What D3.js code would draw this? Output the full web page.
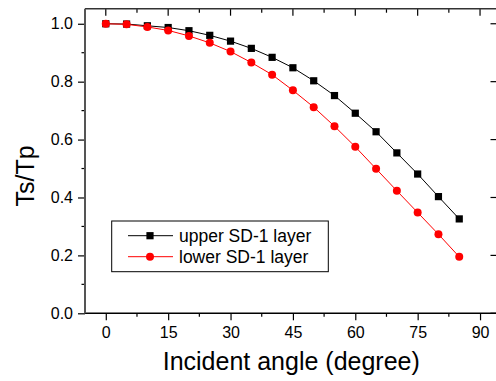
<!DOCTYPE html>
<html>
<head>
<meta charset="utf-8">
<script src="https://cdn.jsdelivr.net/npm/d3@7"></script>
<style>
  body { margin: 0; background: #fff; }
  svg text { font-family: Arial, "Liberation Sans", sans-serif; fill: #000; }
</style>
</head>
<body>
<div id="chart"></div>
<script>
// incident angle (degree)
var angles = [0, 5, 10, 15, 20, 25, 30, 35, 40, 45, 50, 55, 60, 65, 70, 75, 80, 85];
var upperSD1 = [1.000, 0.999, 0.993, 0.987, 0.976, 0.960, 0.940, 0.915, 0.884, 0.848, 0.803, 0.752, 0.691, 0.627, 0.554, 0.481, 0.403, 0.326];
var lowerSD1 = [1.000, 0.998, 0.989, 0.977, 0.958, 0.934, 0.904, 0.866, 0.824, 0.770, 0.712, 0.646, 0.575, 0.499, 0.423, 0.348, 0.273, 0.195];
var xTicks = [0, 15, 30, 45, 60, 75, 90];
var yTicks = [0.0, 0.2, 0.4, 0.6, 0.8, 1.0];
var seriesNames = ["upper SD-1 layer", "lower SD-1 layer"];

(function () {
  var W = 496, H = 381;
  var mLeft = 85, mRight = 497.5, mTop = 8.7, mBottom = 313.3;

  var x = d3.scaleLinear().domain([-5, 94.2]).range([mLeft, mRight]);
  var y = d3.scaleLinear().domain([0, 1.052]).range([mBottom, mTop]);

  var svg = d3.select("#chart").append("svg")
    .attr("width", W).attr("height", H);

  // minor tick values
  var xMinor = d3.range(7.5, 94, 15);
  var yMinor = d3.range(0.1, 1.05, 0.2);

  // bottom axis (ticks outward)
  var xAxis = d3.axisBottom(x).tickValues(xTicks).tickSize(7).tickPadding(6).tickFormat(d3.format("d"));
  var gx = svg.append("g").attr("transform", "translate(0," + mBottom + ")").call(xAxis);
  gx.select(".domain").remove();
  gx.selectAll(".tick line").attr("stroke", "#000").attr("stroke-width", 1.2);
  gx.selectAll("text").style("font-size", "16px");
  gx.selectAll(".minor").data(xMinor).enter().append("line")
    .attr("x1", function (d) { return x(d); }).attr("x2", function (d) { return x(d); })
    .attr("y1", 0).attr("y2", 3.5).attr("stroke", "#000").attr("stroke-width", 1.2);

  // left axis (ticks outward)
  var yAxis = d3.axisLeft(y).tickValues(yTicks).tickSize(7).tickPadding(5).tickFormat(d3.format(".1f"));
  var gy = svg.append("g").attr("transform", "translate(" + mLeft + ",0)").call(yAxis);
  gy.select(".domain").remove();
  gy.selectAll(".tick line").attr("stroke", "#000").attr("stroke-width", 1.2);
  gy.selectAll("text").style("font-size", "16px");
  gy.selectAll(".minor").data(yMinor).enter().append("line")
    .attr("y1", function (d) { return y(d); }).attr("y2", function (d) { return y(d); })
    .attr("x1", 0).attr("x2", -3.5).attr("stroke", "#000").attr("stroke-width", 1.2);

  // top axis (ticks inward, no labels)
  var gt = svg.append("g").attr("transform", "translate(0," + mTop + ")");
  gt.selectAll(".maj").data(xTicks).enter().append("line")
    .attr("x1", function (d) { return x(d); }).attr("x2", function (d) { return x(d); })
    .attr("y1", 0).attr("y2", 7).attr("stroke", "#000").attr("stroke-width", 1.2);
  gt.selectAll(".min").data(xMinor).enter().append("line")
    .attr("x1", function (d) { return x(d); }).attr("x2", function (d) { return x(d); })
    .attr("y1", 0).attr("y2", 4).attr("stroke", "#000").attr("stroke-width", 1.2);

  // right axis (ticks inward)
  var gr = svg.append("g").attr("transform", "translate(" + mRight + ",0)");
  gr.selectAll(".maj").data(yTicks).enter().append("line")
    .attr("y1", function (d) { return y(d); }).attr("y2", function (d) { return y(d); })
    .attr("x1", 0).attr("x2", -7).attr("stroke", "#000").attr("stroke-width", 1.2);

  // frame
  svg.append("line").attr("x1", mLeft).attr("x2", mRight).attr("y1", mTop).attr("y2", mTop)
    .attr("stroke", "#333").attr("stroke-width", 1.5);
  svg.append("line").attr("x1", mLeft).attr("x2", mRight).attr("y1", mBottom).attr("y2", mBottom)
    .attr("stroke", "#000").attr("stroke-width", 1.5);
  svg.append("line").attr("x1", mLeft).attr("x2", mLeft).attr("y1", mTop).attr("y2", mBottom)
    .attr("stroke", "#555").attr("stroke-width", 2);
  svg.append("line").attr("x1", mRight).attr("x2", mRight).attr("y1", mTop).attr("y2", mBottom)
    .attr("stroke", "#333").attr("stroke-width", 1.5);

  // axis titles
  svg.append("text").attr("x", (mLeft + mRight) / 2).attr("y", 370)
    .attr("text-anchor", "middle").style("font-size", "25px").text("Incident angle (degree)");
  svg.append("text").attr("transform", "translate(33.5,176) rotate(-90)")
    .attr("text-anchor", "middle").style("font-size", "25px").text("Ts/Tp");

  // series
  var series = [
    { name: seriesNames[0], values: upperSD1, color: "#000", shape: "square" },
    { name: seriesNames[1], values: lowerSD1, color: "#ff0000", shape: "circle" }
  ];

  var line = d3.line()
    .x(function (d, i) { return x(angles[i]); })
    .y(function (d) { return y(d); });

  function drawMarker(g, shape, color) {
    if (shape === "square") {
      g.append("rect").attr("x", -3.6).attr("y", -3.6).attr("width", 7.2).attr("height", 7.2)
        .attr("fill", color);
    } else {
      g.append("circle").attr("r", 4).attr("fill", color);
    }
  }

  series.forEach(function (s) {
    svg.append("path").datum(s.values).attr("d", line)
      .attr("fill", "none").attr("stroke", s.color).attr("stroke-width", 1);
    s.values.forEach(function (v, i) {
      var g = svg.append("g").attr("transform", "translate(" + x(angles[i]) + "," + y(v) + ")");
      drawMarker(g, s.shape, s.color);
    });
  });

  // legend
  var lg = svg.append("g");
  lg.append("rect").attr("x", 111.7).attr("y", 221).attr("width", 216.6).attr("height", 50.7)
    .attr("fill", "#fff").attr("stroke", "#000").attr("stroke-width", 1);
  series.forEach(function (s, i) {
    var cy = 235.7 + i * 21;
    lg.append("line").attr("x1", 128).attr("x2", 173).attr("y1", cy).attr("y2", cy)
      .attr("stroke", s.color).attr("stroke-width", 1);
    var m = lg.append("g").attr("transform", "translate(150," + cy + ")");
    drawMarker(m, s.shape, s.color);
    lg.append("text").attr("x", 179).attr("y", cy + 6).style("font-size", "17.5px").text(s.name);
  });
})();
</script>
</body>
</html>
